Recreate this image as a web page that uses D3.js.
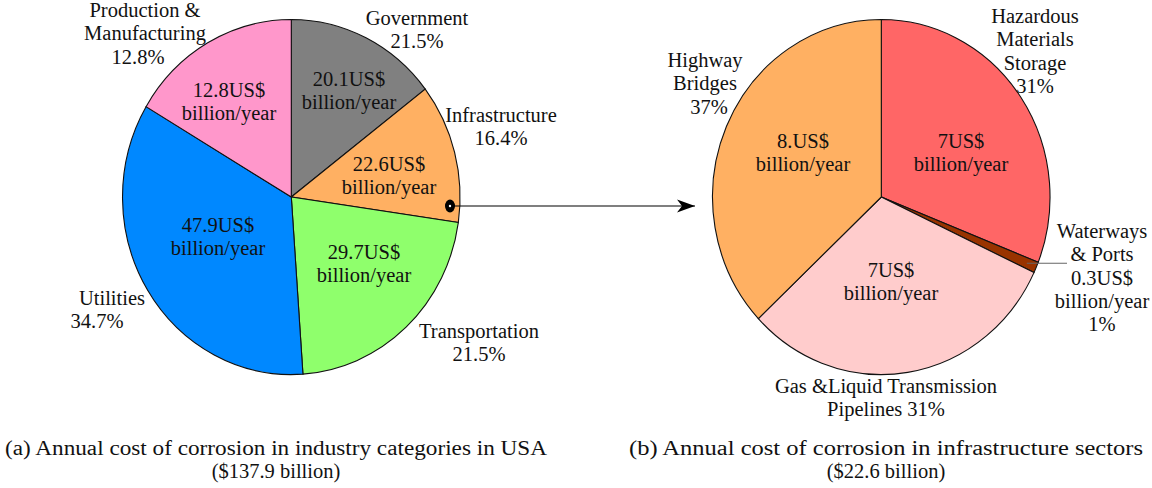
<!DOCTYPE html>
<html>
<head>
<meta charset="utf-8">
<style>
  body { margin: 0; background: #fff; }
</style>
</head>
<body>
<svg width="1152" height="488"></svg>
<script src="https://cdn.jsdelivr.net/npm/d3@7"></script>
<script>
    const width = 1152;
    const height = 488;

    // (a) industry categories, clockwise from 12 o'clock
    const catA = ["Government", "Infrastructure", "Transportation", "Utilities", "Production & Manufacturing"];
    const shareA = [14.6, 12.7, 21.6, 34.6, 16.5];          // slice size as drawn (%)
    const costA = ["20.1US$", "22.6US$", "29.7US$", "47.9US$", "12.8US$"];
    const pctA = ["21.5%", "16.4%", "21.5%", "34.7%", "12.8%"];
    const colorA = ["#808080", "#ffb062", "#8fff6c", "#0088ff", "#ff97cb"];

    // (b) infrastructure sectors
    const catB = ["Hazardous Materials Storage", "Waterways & Ports", "Gas &Liquid Transmission Pipelines", "Highway Bridges"];
    const shareB = [31, 1, 31, 37];
    const costB = ["7US$", "0.3US$", "7US$", "8.US$"];
    const pctB = ["31%", "1%", "31%", "37%"];
    const colorB = ["#ff6666", "#993300", "#ffcccc", "#ffb062"];

    const captions = [
        ["(a) Annual cost of corrosion in industry categories in USA", "($137.9 billion)"],
        ["(b) Annual cost of corrosion in infrastructure sectors", "($22.6 billion)"]
    ];

    const font = "'Liberation Serif', 'Times New Roman', Times, serif";

    const svg = d3.select("svg")
        .attr("viewBox", [0, 0, width, height])
        .attr("font-family", font)
        .attr("font-size", 20.5)
        .attr("fill", "#111");

    const lineH = 23.3;

    // both pies are slightly squashed ellipses in the original
    const pieA = {cx: 291.3, cy: 197, rx: 168.7, ry: 177.5};
    const pieB = {cx: 881.3, cy: 197, rx: 168.7, ry: 177.5};

    const pie = d3.pie().sort(null).value(d => d.share);
    const arc = d3.arc().innerRadius(0).outerRadius(1);

    function drawPie(geo, cats, shares, colors) {
        const data = cats.map((c, i) => ({name: c, share: shares[i], color: colors[i]}));
        const g = svg.append("g")
            .attr("transform", `translate(${geo.cx},${geo.cy}) scale(${geo.rx},${geo.ry})`);
        const arcs = pie(data);
        g.selectAll("path")
            .data(arcs)
            .join("path")
            .attr("d", arc)
            .attr("fill", d => d.data.color)
            .attr("stroke", "#111")
            .attr("stroke-width", 1.1)
            .attr("vector-effect", "non-scaling-stroke");
        return arcs;
    }

    const arcsA = drawPie(pieA, catA, shareA, colorA);
    const arcsB = drawPie(pieB, catB, shareB, colorB);

    // multi-line centred text helper, dx = per-line nudge
    function block(x, y, lines, dx) {
        const t = svg.append("text")
            .attr("text-anchor", "middle")
            .attr("font-family", font);
        lines.forEach((s, i) => {
            t.append("tspan")
                .attr("x", x + (dx && dx[i] ? dx[i] : 0))
                .attr("y", y + i * lineH)
                .text(s);
        });
        return t;
    }

    // value labels inside slices [x, baseline]
    const innerPosA = [[349, 86], [389, 171], [364, 259], [218, 232], [229, 97]];
    const innerPosB = [[961, 148], null, [891, 277], [803, 148]];
    costA.forEach((c, i) => block(innerPosA[i][0], innerPosA[i][1], [c, "billion/year"]));
    costB.forEach((c, i) => { if (innerPosB[i]) block(innerPosB[i][0], innerPosB[i][1], [c, "billion/year"]); });

    // outer labels
    const outerA = [
        {x: 417, y: 25, lines: ["Government", pctA[0]]},
        {x: 501, y: 122, lines: ["Infrastructure", pctA[1]]},
        {x: 479, y: 338, lines: ["Transportation", pctA[2]]},
        {x: 112, y: 305, lines: ["Utilities", pctA[3]], dx: [0, -15]},
        {x: 145, y: 17, lines: ["Production &", "Manufacturing", pctA[4]], dx: [0, 0, -7]}
    ];
    const outerB = [
        {x: 1035, y: 23, lines: ["Hazardous", "Materials", "Storage", pctB[0]]},
        {x: 1102, y: 238, lines: ["Waterways", "& Ports", costB[1], "billion/year", pctB[1]]},
        {x: 886, y: 393, lines: ["Gas &Liquid Transmission", "Pipelines " + pctB[2]]},
        {x: 705, y: 67, lines: ["Highway", "Bridges", pctB[3]], dx: [0, 0, 4]}
    ];
    outerA.forEach(o => block(o.x, o.y, o.lines, o.dx));
    outerB.forEach(o => block(o.x, o.y, o.lines, o.dx));

    // leader for the thin Waterways slice
    const w = arcsB[1];
    const wa = (w.startAngle + w.endAngle) / 2;
    svg.append("line")
        .attr("x1", pieB.cx + pieB.rx * 0.94 * Math.sin(wa))
        .attr("y1", pieB.cy - pieB.ry * 0.94 * Math.cos(wa))
        .attr("x2", 1067)
        .attr("y2", pieB.cy - pieB.ry * 0.94 * Math.cos(wa))
        .attr("stroke", "#666")
        .attr("stroke-width", 1.2);

    // arrow from the Infrastructure slice to pie (b)
    const ay = 206;
    svg.append("defs").append("marker")
        .attr("id", "head")
        .attr("viewBox", "0 -7 18 14")
        .attr("refX", 18).attr("refY", 0)
        .attr("markerWidth", 18).attr("markerHeight", 14)
        .attr("markerUnits", "userSpaceOnUse")
        .attr("orient", "auto")
        .append("path")
        .attr("d", "M0,-6.5L18,0L0,6.5L5,0Z")
        .attr("fill", "#000");
    svg.append("line")
        .attr("x1", 450).attr("y1", ay)
        .attr("x2", 695).attr("y2", ay)
        .attr("stroke", "#000")
        .attr("stroke-width", 1.2)
        .attr("marker-end", "url(#head)");
    svg.append("ellipse")
        .attr("cx", 450).attr("cy", ay)
        .attr("rx", 5).attr("ry", 6.5)
        .attr("fill", "#000");
    svg.append("circle")
        .attr("cx", 450).attr("cy", ay)
        .attr("r", 1.2)
        .attr("fill", "#fff");

    // captions
    const capX = [276, 886];
    const capW = [542, 514];
    captions.forEach((c, i) => {
        svg.append("text").attr("text-anchor", "middle")
            .attr("font-family", font)
            .attr("x", capX[i]).attr("y", 455)
            .attr("textLength", capW[i]).attr("lengthAdjust", "spacingAndGlyphs")
            .text(c[0]);
        svg.append("text").attr("text-anchor", "middle")
            .attr("font-family", font)
            .attr("x", capX[i]).attr("y", 478)
            .text(c[1]);
    });
</script>
</body>
</html>
